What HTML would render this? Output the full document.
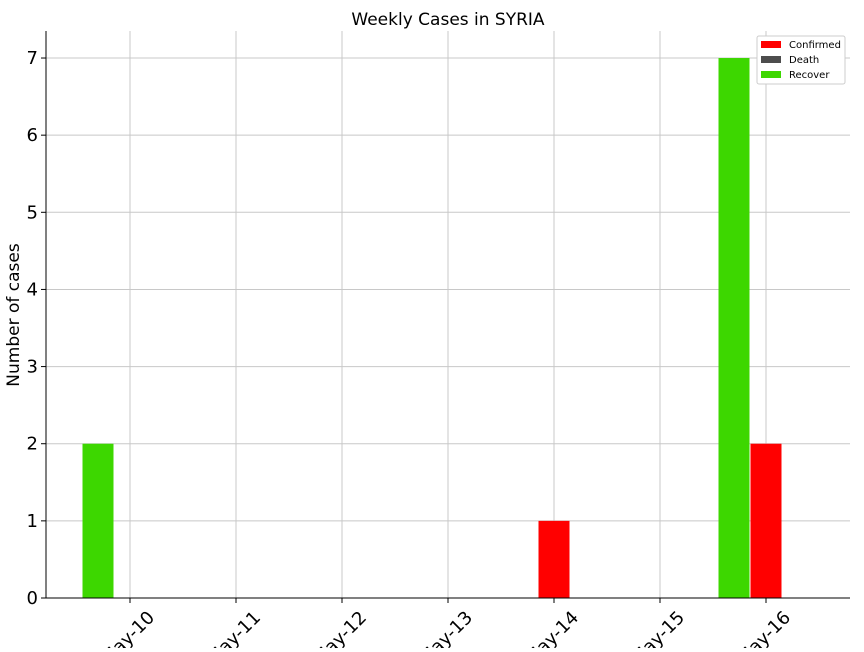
<!DOCTYPE html>
<html><head><meta charset="utf-8"><style>
body{margin:0;background:#fff;font-family:"DejaVu Sans","Liberation Sans",sans-serif;}
</style></head><body>
<svg id="chart" width="864" height="648" xmlns="http://www.w3.org/2000/svg" font-family="DejaVu Sans, Liberation Sans, sans-serif">
<rect width="864" height="648" fill="#fff"/>
<text x="448" y="25" text-anchor="middle" font-size="17">Weekly Cases in SYRIA</text>
<text transform="translate(19,315) rotate(-90)" text-anchor="middle" font-size="17">Number of cases</text>
<g id="grid"></g><g id="bars"></g><g id="axes"></g>
<g>
<rect x="757" y="36" width="88" height="48" fill="#fff" stroke="#ccc" rx="2"/>
<rect x="761" y="41" width="20" height="7" fill="#ff0000"/><text x="789" y="48" font-size="10">Confirmed</text>
<rect x="761" y="56" width="20" height="7" fill="#4d4d4d"/><text x="789" y="63" font-size="10">Death</text>
<rect x="761" y="71" width="20" height="7" fill="#3dd700"/><text x="789" y="78" font-size="10">Recover</text>
</g>
</svg>
<script>
const categories=["May-10","May-11","May-12","May-13","May-14","May-15","May-16"];
const confirmed=[0,0,0,0,1,0,2];
const deaths=[0,0,0,0,0,0,0];
const recovered=[2,0,0,0,0,0,7];
const yTicks=[0,1,2,3,4,5,6,7];
const NS="http://www.w3.org/2000/svg";
const L=46,R=850,T=31,B=598;
const x=i=>130+i*106;
const y=v=>B-v*77.14;
function mk(tag,at,parent){const e=document.createElementNS(NS,tag);for(const k in at)e.setAttribute(k,at[k]);document.getElementById(parent).appendChild(e);return e;}
yTicks.forEach(t=>{
 const g=mk('line',{x1:L,x2:R,y1:y(t),y2:y(t),stroke:'#c8c8c8','stroke-width':1},'grid');
 
 
 mk('line',{x1:L-5,x2:L,y1:y(t),y2:y(t),stroke:'#000'},'axes');
 const tx=mk('text',{x:L-8,y:y(t)+6,'text-anchor':'end','font-size':18},'axes');
 tx.textContent=t;
 
 
});
categories.forEach((c,i)=>{
 const g=mk('line',{x1:x(i),x2:x(i),y1:T,y2:B,stroke:'#c8c8c8','stroke-width':1},'grid');
 
 
 mk('line',{x1:x(i),x2:x(i),y1:B,y2:B+5,stroke:'#000'},'axes');
 const tx=mk('text',{x:0,y:0,'text-anchor':'middle','font-size':18,transform:`translate(${x(i)+2},${B+44}) rotate(-45)`},'axes');
 tx.textContent=c;
 
 
});
const W=31;
function bar(v,i,off,col,name){
 if(v<=0)return;
 const r=mk('rect',{x:x(i)+off-W/2,y:y(v),width:W,height:B-y(v),fill:col},'bars');
 
 
}
categories.forEach((c,i)=>{
 bar(recovered[i],i,-32,'#3dd700','bar-recover');
 bar(deaths[i],i,0,'#4d4d4d','bar-death');
 bar(confirmed[i],i,0,'#ff0000','bar-confirmed');
});
mk('line',{x1:L,x2:L,y1:T,y2:B,stroke:'#000'},'axes');
mk('line',{x1:L,x2:R,y1:B,y2:B,stroke:'#000'},'axes');
</script>
</body></html>
